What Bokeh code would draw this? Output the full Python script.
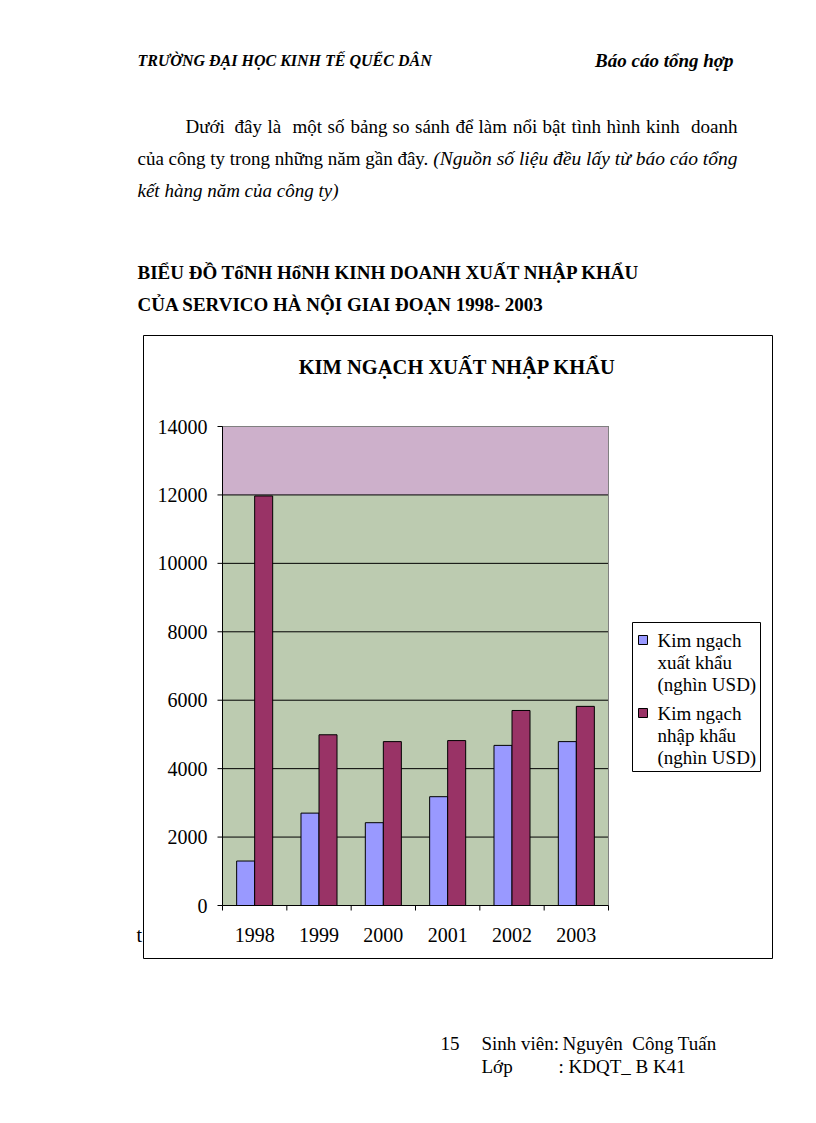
from bokeh.plotting import figure
from bokeh.models import Range1d, Label
from bokeh.core.properties import value
from bokeh.embed import file_html
from bokeh.resources import INLINE

# ---------------- data ----------------
years = ["1998", "1999", "2000", "2001", "2002", "2003"]
export_vals = [1300, 2700, 2420, 3180, 4680, 4790]
import_vals = [11970, 4990, 4790, 4820, 5700, 5820]
y_ticks = [0, 2000, 4000, 6000, 8000, 10000, 12000, 14000]
y_tick_labels = [str(t) for t in y_ticks]
series_labels = [["Kim ngạch", "xuất khẩu", "(nghìn USD)"],
                 ["Kim ngạch", "nhập khẩu", "(nghìn USD)"]]
chart_title = "KIM NGẠCH XUẤT NHẬP KHẨU"

# ---------------- layout (page pixels) ----------------
OFF = 0
CW, CH = 800, 1100
PL, PR, PT, PB = 222, 608, 426, 905          # plot area
YMAX = 14000
NCAT = len(years)
px_cat = (PR - PL) / NCAT
px_val = (PB - PT) / YMAX
SERIF = "Liberation Serif"
BLUE, MAROON = "#9999FF", "#993366"

p = figure(width=CW, height=CH, output_backend="svg", toolbar_location=None,
           x_range=Range1d(OFF, OFF + CW), y_range=Range1d(OFF + CH, OFF),
           x_axis_type=None, y_axis_type=None, min_border=0,
           outline_line_color=None, background_fill_color="white",
           border_fill_color="white")
p.grid.visible = False
p.extra_x_ranges = {"cx": Range1d((OFF - PL) / px_cat, (OFF + CW - PL) / px_cat)}
p.extra_y_ranges = {"cy": Range1d(-(OFF + CH - PB) / px_val, (PB - OFF) / px_val)}

def lab(x, y, text, size, style="normal", align="left"):
    p.add_layout(Label(x=x, y=y, text=text, text_font=SERIF,
                       text_font_size=f"{size}px", text_font_style=style,
                       text_align=align, text_baseline="middle",
                       text_color="black"))

# ---------------- page text ----------------
lab(137, 60, "TRƯỜNG ĐẠI HỌC KINH TẾ QUỂC DÂN", 16, "bold italic")
lab(733, 60, "Báo cáo tổng hợp", 19, "bold italic", "right")
# justified first paragraph line, word by word
line1_words = ["Dưới", "đây", "là", "một", "số", "bảng", "so", "sánh", "để",
               "làm", "nổi", "bật", "tình", "hình", "kinh"]
line1_x = [185, 234, 267, 292, 327, 350, 392, 414.5, 455, 478, 512.5, 542,
           571, 606, 645.5]
for w, xx in zip(line1_words, line1_x):
    lab(xx, 126, w, 19)
lab(737, 126, "doanh", 19, "normal", "right")
lab(137, 158, "của công ty trong những năm gần đây.", 19)
lab(737, 158, "(Nguồn số liệu đều lấy từ báo cáo tổng", 19.5, "italic", "right")
lab(137, 190, "kết hàng năm của công ty)", 19, "italic")
lab(137, 272, "BIỂU ĐỒ TổNH HổNH KINH DOANH XUẤT NHẬP KHẨU", 19, "bold")
lab(137, 304, "CỦA SERVICO HÀ NỘI GIAI ĐOẠN 1998- 2003", 19, "bold")
lab(136, 934, "t", 20)
lab(440, 1043, "15", 19)
lab(481, 1043, "Sinh viên:", 19)
lab(562, 1043, "Nguyên", 19)
lab(716, 1043, "Công Tuấn", 19, "normal", "right")
lab(481, 1066, "Lớp", 19)
lab(558, 1066, ": KDQT_ B K41", 19)

# ---------------- chart box ----------------
p.quad(left=143, right=772, top=335, bottom=958, fill_color="white",
       line_color="black", line_width=1)
lab(457, 366, chart_title, 20.5, "bold", "center")

# plot area background bands
p.quad(left=[0, 0], right=[NCAT, NCAT], bottom=[0, 12000], top=[12000, YMAX],
       fill_color=["#bccbb0", "#cdb0cb"], line_color=None,
       x_range_name="cx", y_range_name="cy")
# gridlines
p.segment(x0=0, x1=NCAT, y0=y_ticks[1:], y1=y_ticks[1:], line_color="black",
          line_width=1, x_range_name="cx", y_range_name="cy")
# plot area border (top/right)
p.segment(x0=[0, NCAT], x1=[NCAT, NCAT], y0=[YMAX, 0], y1=[YMAX, YMAX],
          line_color="#808080", line_width=1, x_range_name="cx", y_range_name="cy")

# bars
cent = [i + 0.5 for i in range(NCAT)]
bw = 0.28
p.vbar(x=[c - bw / 2 for c in cent], top=export_vals, width=bw, bottom=0,
       fill_color=BLUE, line_color="black", line_width=1,
       x_range_name="cx", y_range_name="cy")
p.vbar(x=[c + bw / 2 for c in cent], top=import_vals, width=bw, bottom=0,
       fill_color=MAROON, line_color="black", line_width=1,
       x_range_name="cx", y_range_name="cy")

# y axis
p.segment(x0=0, x1=0, y0=0, y1=YMAX, line_color="black", line_width=1,
          x_range_name="cx", y_range_name="cy")
p.segment(x0=PL - 5, x1=PL, y0=y_ticks, y1=y_ticks, line_color="black",
          line_width=1, y_range_name="cy")
p.text(x=207, y=y_ticks, text=y_tick_labels, text_font=value(SERIF),
       text_font_size="20px", text_align="right", text_baseline="middle",
       text_color="black", y_range_name="cy")
# x axis
p.segment(x0=0, x1=NCAT, y0=0, y1=0, line_color="black", line_width=1,
          x_range_name="cx", y_range_name="cy")
p.segment(x0=list(range(NCAT + 1)), x1=list(range(NCAT + 1)), y0=PB, y1=PB + 5,
          line_color="black", line_width=1, x_range_name="cx")
p.text(x=cent, y=934, text=years, text_font=value(SERIF), text_font_size="20px",
       text_align="center", text_baseline="middle", text_color="black",
       x_range_name="cx")

# legend
p.quad(left=632, right=760, top=622, bottom=771, fill_color="white",
       line_color="black", line_width=1)
row_y = [[640, 662, 684], [713, 735, 757]]
colors = [BLUE, MAROON]
for k in range(2):
    p.quad(left=638, right=647, top=row_y[k][0] - 5, bottom=row_y[k][0] + 4,
           fill_color=colors[k], line_color="black", line_width=1)
    for j in range(3):
        lab(657, row_y[k][j], series_labels[k][j], 19)

open("out.html", "w").write(file_html(p, INLINE))
